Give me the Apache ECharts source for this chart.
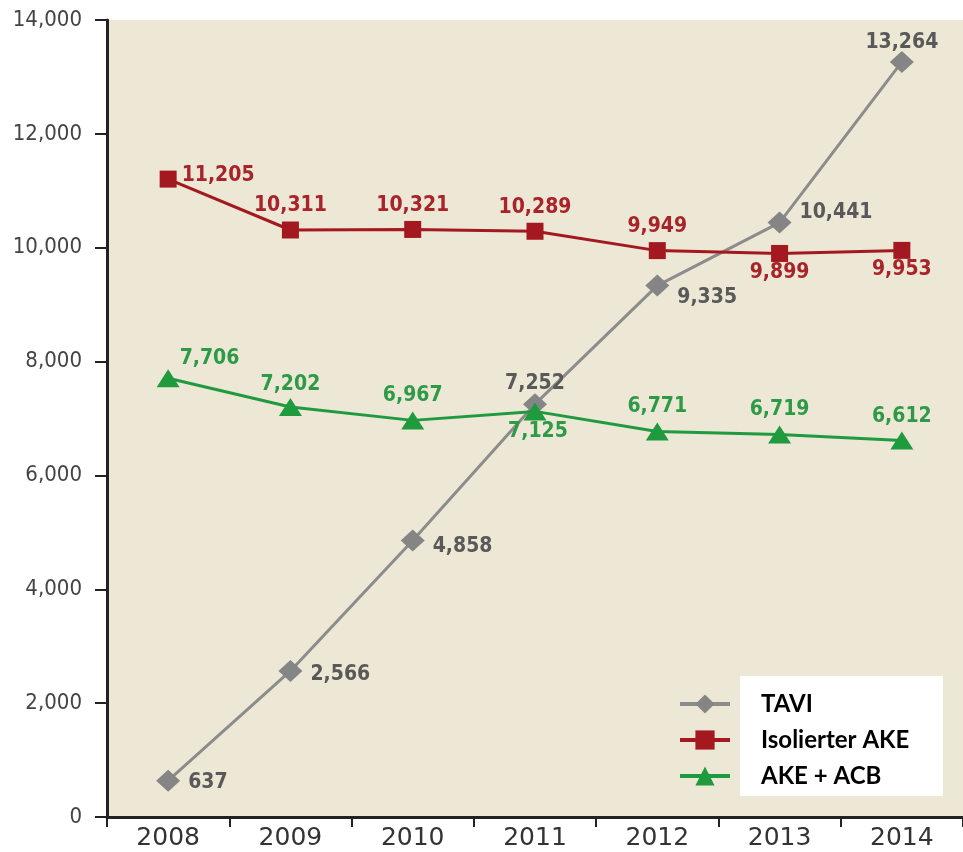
<!DOCTYPE html>
<html><head><meta charset="utf-8">
<script src="https://cdn.jsdelivr.net/npm/echarts@6/dist/echarts.min.js"></script>
<style>html,body{margin:0;padding:0;background:#fff}#c{width:963px;height:852px}</style>
</head><body><div id="c"></div>
<script>
const years = ['2008','2009','2010','2011','2012','2013','2014'];
const tavi = [637, 2566, 4858, 7252, 9335, 10441, 13264];
const ake = [11205, 10311, 10321, 10289, 9949, 9899, 9953];
const acb = [7706, 7202, 6967, 7125, 6771, 6719, 6612];
const seriesNames = ['TAVI', 'Isolierter AKE', 'AKE + ACB'];
const yTicks = [0, 2000, 4000, 6000, 8000, 10000, 12000, 14000];

const fmt = v => v.toLocaleString('en-US');
const labelFont = {fontFamily: '"DejaVu Sans Condensed","DejaVu Sans",sans-serif', fontWeight: 'bold', fontSize: 21};

const taviPos = [['right',[0,2]],['right',[0,4]],['right',[0,6]],['top',[0,9]],['right',[0,12]],['right',[0,-10]],['top',[0,10]]];
const akePos = [['right',[0,-4]],['top',[0,0]],['top',[0,0]],['top',[0,0]],['top',[0,0]],['bottom',[0,-5]],['bottom',[0,-5]]];
const acbPos = [['right',[-5,-20]],['top',[0,2]],['top',[0,0]],['bottom',[3,-4]],['top',[0,0]],['top',[0,0]],['top',[0,0]]];

function mk(vals, pos) {
  return vals.map((v, i) => ({value: v, label: {position: pos[i][0], offset: pos[i][1]}}));
}

const chart = echarts.init(document.getElementById('c'));
chart.setOption({
  animation: false,
  backgroundColor: '#ffffff',
  grid: {left: 107, right: 0, top: 20, bottom: 35, show: true, backgroundColor: '#ece8d5', borderWidth: 0},
  graphic: [{type: 'rect', z: 1, shape: {x: 740, y: 676, width: 203, height: 120}, style: {fill: '#ffffff'}}],
  legend: {
    orient: 'vertical', left: 678, top: 692, padding: 0, itemWidth: 50, itemHeight: 24, itemGap: 12, z: 5,
    data: seriesNames,
    lineStyle: {width: 4},
    textStyle: {fontFamily: 'Lato, "Open Sans", sans-serif', fontWeight: 'bold', fontSize: 24, color: '#000', padding: [0,0,0,26], lineHeight: 24}
  },
  xAxis: {
    type: 'category', data: years, boundaryGap: true,
    axisLine: {lineStyle: {color: '#222', width: 3}},
    axisTick: {show: true, length: 10, lineStyle: {color: '#222', width: 2}},
    axisLabel: {fontFamily: '"DejaVu Sans", sans-serif', fontSize: 25, color: '#333', margin: 9}
  },
  yAxis: {
    type: 'value', min: 0, max: 14000, interval: 2000,
    splitLine: {show: false},
    axisLine: {show: true, lineStyle: {color: '#222', width: 3}},
    axisTick: {show: true, length: 12, lineStyle: {color: '#222', width: 2}},
    axisLabel: {fontFamily: '"DejaVu Sans Condensed","DejaVu Sans",sans-serif', fontSize: 22, color: '#444', margin: 25, formatter: v => fmt(v)}
  },
  series: [
    {name: seriesNames[0], type: 'line', data: mk(tavi, taviPos), symbol: 'diamond', symbolSize: [24, 22], z: 3,
     lineStyle: {color: '#8c8c8c', width: 3}, itemStyle: {color: '#858585'},
     label: Object.assign({show: true, color: '#595959', distance: 8, formatter: p => fmt(p.value)}, labelFont)},
    {name: seriesNames[1], type: 'line', data: mk(ake, akePos), symbol: 'rect', symbolSize: 17, z: 4,
     lineStyle: {color: '#a3191f', width: 3}, itemStyle: {color: '#a3191f'},
     label: Object.assign({show: true, color: '#a8232a', distance: 5, formatter: p => fmt(p.value)}, labelFont)},
    {name: seriesNames[2], type: 'line', data: mk(acb, acbPos), symbol: 'triangle', symbolSize: [23, 18], z: 4,
     lineStyle: {color: '#1f9a3e', width: 3}, itemStyle: {color: '#1f9a3e'},
     label: Object.assign({show: true, color: '#2e9a48', distance: 5, formatter: p => fmt(p.value)}, labelFont)}
  ]
});
</script></body></html>
